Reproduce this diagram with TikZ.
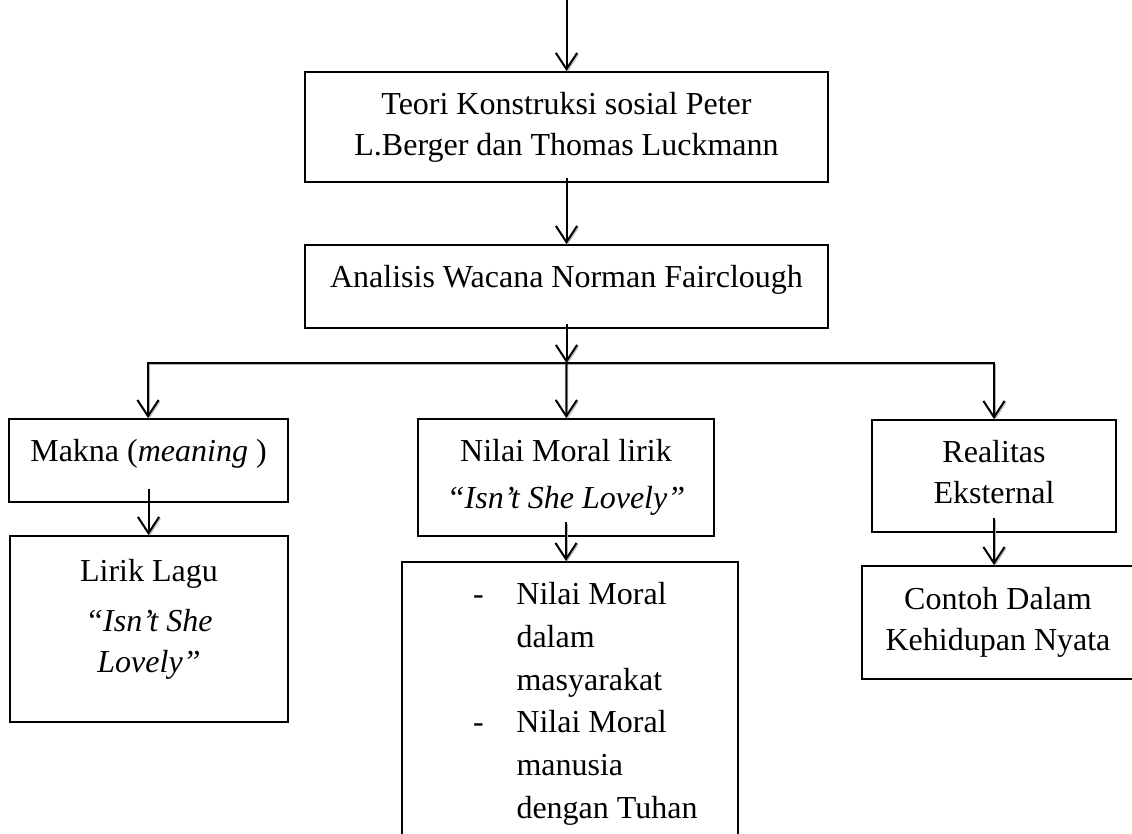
\documentclass[tikz,border=0pt]{standalone}
\usepackage{fontspec}
\setmainfont{Liberation Serif}
\usetikzlibrary{positioning, arrows.meta, fit, calc}

\begin{document}
\begin{tikzpicture}[
    x=0.4pt, y=-0.4pt,
    >={Straight Barb[length=6.5pt, width=8.5pt]},
    kotak/.style={rectangle, draw=black, line width=0.8pt, inner sep=0pt},
    isi/.style={align=center, inner sep=0pt, font=\fontsize{12.8}{16.4}\selectfont},
    panah/.style={->, line width=0.8pt,
                  preaction={draw=black!30, transform canvas={shift={(0.5pt,-0.6pt)}}}}
  ]
    \useasboundingbox (0,0) rectangle (1132,833);

    % kotak
    \node[kotak, fit={(305,72) (828,182)}] (teori) {};
    \node[kotak, fit={(305,245) (828,328)}] (analisis) {};
    \node[kotak, fit={(9,419) (288,502)}] (makna) {};
    \node[kotak, fit={(10,536) (288,722)}] (lirik) {};
    \node[kotak, fit={(418,419) (714,536)}] (nilai) {};
    \node[kotak, fit={(402,562) (738,860)}] (nilaibawah) {};
    \node[kotak, fit={(872,420) (1116,532)}] (realitas) {};
    \node[kotak, fit={(862,566) (1134,679)}] (contoh) {};

    % teks
    \node[isi, below=8.2pt of teori.north] (teoritxt) {Teori Konstruksi sosial Peter\\L.Berger dan Thomas Luckmann};
    \node[isi, below=8.2pt of analisis.north] (analisistxt) {Analisis Wacana Norman Fairclough};
    \node[isi, below=8.2pt of makna.north] (maknatxt) {Makna (\textit{meaning} )};
    \node[isi, below=9.6pt of lirik.north] (liriktxt) {Lirik Lagu\\[3.4pt]\textit{“Isn’t She}\\\textit{Lovely”}};
    \node[isi, below=8.2pt of nilai.north] (nilaitxt) {Nilai Moral lirik\\[2.6pt]\textit{“Isn’t She Lovely”}};
    \node[isi, align=left, font=\fontsize{12.8}{17.1}\selectfont,
          below right=8.4pt and 28.6pt of nilaibawah.north west] (nilaibawahtxt)
      {\makebox[17.4pt][l]{-}Nilai Moral\\\hspace*{17.4pt}dalam\\\hspace*{17.4pt}masyarakat\\
       \makebox[17.4pt][l]{-}Nilai Moral\\\hspace*{17.4pt}manusia\\\hspace*{17.4pt}dengan Tuhan};
    \node[isi, below=8.2pt of realitas.north] (realitastxt) {Realitas\\Eksternal};
    \node[isi, below=8.6pt of contoh.north] (contohtxt) {Contoh Dalam\\Kehidupan Nyata};

    % panah
    \coordinate (mulai) at (566.5,0);
    \coordinate (cabang) at (566.5,363);
    \coordinate (kiri) at (148,363);
    \coordinate (kanan) at (994,363);

    \draw[panah] (mulai) -- (teori);
    \draw[panah] ([yshift=2pt]teori.south) -- (analisis);
    \draw[panah] ([yshift=2pt]analisis.south) -- (cabang);
    \draw[panah, <->] (kiri |- makna.north) -- (kiri) -- (kanan) -- (kanan |- realitas.north);
    \draw[panah] (cabang) -- (nilai);
    \draw[panah] ([yshift=5.6pt]makna.south) -- (makna.south |- lirik.north);
    \draw[panah] ([yshift=6pt]nilai.south) -- (nilai.south |- nilaibawah.north);
    \draw[panah] ([yshift=6pt]realitas.south) -- (realitas.south |- contoh.north);
\end{tikzpicture}
\end{document}
